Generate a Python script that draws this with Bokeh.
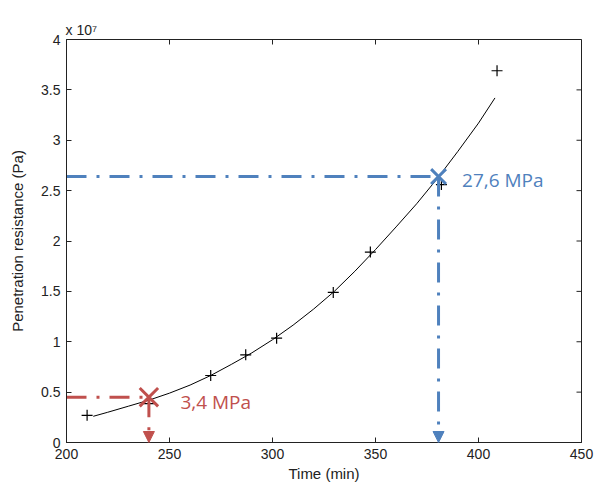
import math
from bokeh.plotting import figure
from bokeh.models import (Range1d, FixedTicker, CustomJSTickFormatter, Label, Arrow, NormalHead)
from bokeh.embed import file_html
from bokeh.resources import INLINE

# Measured points (time in min, penetration resistance in units of 1e7 Pa)
time_min = [210, 240, 270, 287, 302, 329.5, 347.5, 382, 409]
resistance = [0.27, 0.385, 0.665, 0.87, 1.035, 1.49, 1.89, 2.56, 3.69]

# Fitted curve
fit_time = [213, 220, 230, 240, 250, 260, 270, 280, 290, 300, 310, 320, 330,
            340, 350, 360, 370, 380, 390, 400, 408]
fit_res = [0.26, 0.30, 0.36, 0.42, 0.49, 0.57, 0.665, 0.775, 0.89, 1.02, 1.165,
           1.325, 1.50, 1.70, 1.915, 2.14, 2.37, 2.62, 2.89, 3.17, 3.42]

# Highlighted read-off points
mark_time = [240, 380.6]
mark_res = [0.45, 2.64]
mark_labels = ["3,4 MPa", "27,6 MPa"]
mark_colors = ["#C0504D", "#4F81BD"]

x_ticks = [200, 250, 300, 350, 400, 450]
y_ticks = [0, 0.5, 1, 1.5, 2, 2.5, 3, 3.5, 4]
exponent_text = "x 10\u2077"

FONT = "Liberation Sans"
AX = "#222222"

p = figure(width=595, height=486, output_backend="svg", toolbar_location=None,
           x_range=Range1d(200, 450), y_range=Range1d(0, 4),
           min_border_left=66, min_border_right=14, min_border_top=39,
           min_border_bottom=44)
p.grid.visible = False
p.outline_line_color = AX
p.background_fill_color = "white"
p.border_fill_color = "white"

p.title.text = exponent_text
p.title.align = "left"
p.title.text_font = FONT
p.title.text_font_size = "14px"
p.title.text_font_style = "normal"
p.title.text_color = AX
p.title.standoff = 3
p.title.offset = -1

for ax, ticks in ((p.xaxis[0], x_ticks), (p.yaxis[0], y_ticks)):
    ax.ticker = FixedTicker(ticks=ticks)
    ax.major_tick_in = 5
    ax.major_tick_out = 0
    ax.minor_tick_line_color = None
    ax.axis_line_color = AX
    ax.major_tick_line_color = AX
    ax.major_label_text_font = FONT
    ax.major_label_text_font_size = "14px"
    ax.major_label_text_color = AX
    ax.axis_label_text_font = FONT
    ax.axis_label_text_font_size = "15px"
    ax.axis_label_text_font_style = "normal"
    ax.axis_label_text_color = AX
    ax.formatter = CustomJSTickFormatter(code="return tick.toString()")

p.xaxis[0].axis_label = "Time (min)"
p.yaxis[0].axis_label = "Penetration resistance (Pa)"
p.xaxis[0].major_label_standoff = 6
p.xaxis[0].axis_label_standoff = 3
p.yaxis[0].major_label_standoff = 6
p.yaxis[0].axis_label_standoff = 12

# mirrored inward ticks on the right and top edges
p.ray(x=[450] * len(y_ticks), y=y_ticks, length=5, length_units="screen",
      angle=math.pi, line_color=AX, line_width=1)
p.ray(x=x_ticks, y=[4] * len(x_ticks), length=5, length_units="screen",
      angle=-math.pi / 2, line_color=AX, line_width=1)

# fitted curve and data
p.line(fit_time, fit_res, line_color="black", line_width=1)
p.scatter(time_min, resistance, marker="cross", size=11, line_color="black", line_width=1.2)

# guide lines, arrows, markers, labels
sizes = [26, 21]
label_dx = [15.3, 11.4]   # minutes to the right of the marker
label_dy = [-0.05, -0.035]
for t, r, lab, col, sz, dx, dy in zip(mark_time, mark_res, mark_labels, mark_colors,
                                     sizes, label_dx, label_dy):
    p.segment(x0=[200], y0=[r], x1=[t], y1=[r], line_color=col, line_width=3,
              line_dash="20 10 3 10")
    p.add_layout(Arrow(x_start=t, y_start=r, x_end=t, y_end=0, line_color=col,
                       line_width=3, line_dash="20 10 3 10",
                       end=NormalHead(size=11, fill_color=col, line_color=col, line_width=1)))
    p.scatter([t], [r], marker="x", size=sz, line_color=col, line_width=3)
    p.add_layout(Label(x=t + dx, y=r + dy, text=lab, text_color=col, text_font="Open Sans",
                       text_font_size="19px", text_baseline="middle", text_align="left"))

open("out.html", "w").write(file_html(p, INLINE))
